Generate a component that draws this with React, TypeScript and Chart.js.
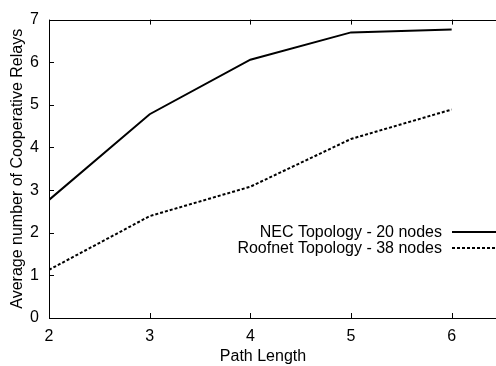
import React, { useEffect, useRef } from "react";
import { Chart, registerables } from "chart.js";

Chart.register(...registerables);

const pathLengths = [2, 3, 4, 5, 6];
const necRelays = [2.77, 4.78, 6.06, 6.7, 6.77];
const roofnetRelays = [1.13, 2.39, 3.08, 4.2, 4.89];
const seriesLabels = ["NEC Topology - 20 nodes", "Roofnet Topology - 38 nodes"];
const xTickValues = [2, 3, 4, 5, 6];
const yTickValues = [0, 1, 2, 3, 4, 5, 6, 7];
const xTitle = "Path Length";
const yTitle = "Average number of Cooperative Relays";

const FONT = "'Liberation Sans', Arial, Helvetica, sans-serif";
const FS = 16;

const boxPlugin = {
  id: "gnuBox",
  afterDatasetsDraw(chart: any) {
    const { ctx, chartArea } = chart;
    const { left, right, top, bottom } = chartArea;
    const xs = chart.scales.x;
    const ys = chart.scales.y;
    ctx.save();
    ctx.strokeStyle = "#000";
    ctx.lineWidth = 1;
    ctx.strokeRect(Math.round(left) + 0.5, Math.round(top) + 0.5, Math.round(right - left), Math.round(bottom - top));
    const tl = 5;
    ctx.beginPath();
    xTickValues.forEach((v) => {
      const px = Math.round(xs.getPixelForValue(v)) + 0.5;
      ctx.moveTo(px, bottom);
      ctx.lineTo(px, bottom - tl);
      ctx.moveTo(px, top);
      ctx.lineTo(px, top + tl);
    });
    yTickValues.forEach((v) => {
      const py = Math.round(ys.getPixelForValue(v)) + 0.5;
      ctx.moveTo(left, py);
      ctx.lineTo(left + tl, py);
      ctx.moveTo(right, py);
      ctx.lineTo(right - tl, py);
    });
    ctx.stroke();

    // legend
    const textRight = 442;
    const lineStart = 452;
    const lineEnd = 496;
    const rowY = [232.5, 249];
    ctx.font = `${FS}px ${FONT}`;
    ctx.fillStyle = "#000";
    ctx.textAlign = "right";
    ctx.textBaseline = "middle";
    chart.data.datasets.forEach((ds: any, i: number) => {
      ctx.fillText(ds.label, textRight, rowY[i]);
      ctx.beginPath();
      ctx.setLineDash(ds.borderDash || []);
      ctx.lineWidth = ds.borderWidth;
      ctx.strokeStyle = ds.borderColor;
      ctx.moveTo(lineStart, Math.round(rowY[i] - 1));
      ctx.lineTo(lineEnd, Math.round(rowY[i] - 1));
      ctx.stroke();
    });
    ctx.setLineDash([]);

    // axis titles
    ctx.fillStyle = "#000";
    ctx.textAlign = "center";
    ctx.textBaseline = "middle";
    ctx.fillText(xTitle, 263, 357);
    ctx.translate(18, (top + bottom) / 2);
    ctx.rotate(-Math.PI / 2);
    ctx.fillText(yTitle, 0, 0);
    ctx.restore();
  },
};

export default function App() {
  const ref = useRef<HTMLCanvasElement>(null);
  useEffect(() => {
    if (!ref.current) return;
    const chart = new Chart(ref.current, {
      type: "line",
      data: {
        datasets: [
          {
            label: seriesLabels[0],
            data: pathLengths.map((x, i) => ({ x, y: necRelays[i] })),
            borderColor: "#000",
            borderWidth: 2,
            pointRadius: 0,
            fill: false,
            tension: 0,
          },
          {
            label: seriesLabels[1],
            data: pathLengths.map((x, i) => ({ x, y: roofnetRelays[i] })),
            borderColor: "#000",
            borderWidth: 2,
            borderDash: [3, 2],
            pointRadius: 0,
            fill: false,
            tension: 0,
          },
        ],
      },
      options: {
        animation: false,
        responsive: false,
        maintainAspectRatio: false,
        layout: { padding: { top: 16, right: 18, left: 0, bottom: 0 } },
        plugins: { legend: { display: false }, tooltip: { enabled: false } },
        scales: {
          x: {
            type: "linear",
            min: 2,
            max: 6.5,
            grid: { display: false, drawTicks: false },
            border: { display: false },
            afterBuildTicks: (s: any) => {
              s.ticks = xTickValues.map((v) => ({ value: v }));
            },
            afterFit: (s: any) => {
              s.height = 48;
            },
            ticks: {
              padding: 9,
              color: "#000",
              font: { family: FONT, size: FS },
              maxRotation: 0,
            },
          },
          y: {
            type: "linear",
            min: 0,
            max: 7,
            grid: { display: false, drawTicks: false },
            border: { display: false },
            afterBuildTicks: (s: any) => {
              s.ticks = yTickValues.map((v) => ({ value: v }));
            },
            afterFit: (s: any) => {
              s.width = 49;
            },
            ticks: {
              padding: 10,
              color: "#000",
              font: { family: FONT, size: FS },
            },
          },
        },
      },
      plugins: [boxPlugin],
    });
    return () => chart.destroy();
  }, []);
  return (
    <div style={{ position: "fixed", left: 0, top: 0, width: 496, height: 366, overflow: "hidden", background: "#fff" }}>
      <canvas ref={ref} width={520} height={366} style={{ display: "block", width: 520, height: 366 }} />
    </div>
  );
}
